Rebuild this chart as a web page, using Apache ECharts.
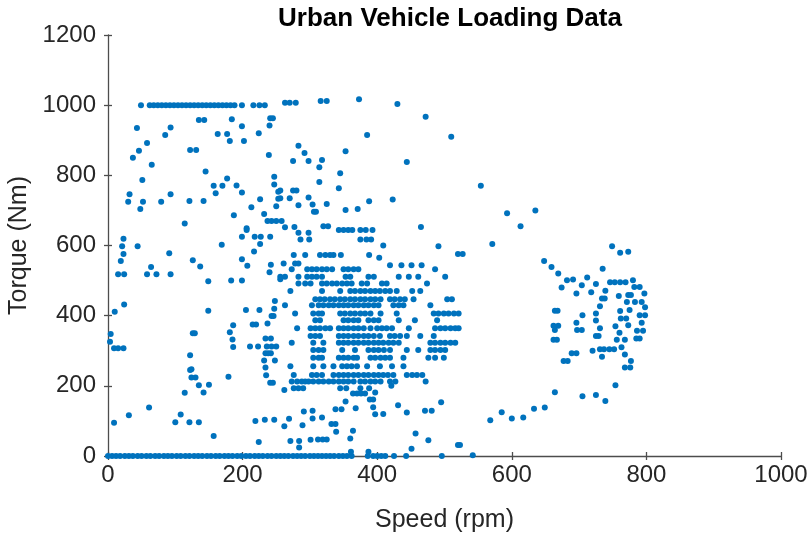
<!DOCTYPE html>
<html><head><meta charset="utf-8">
<script src="https://cdn.jsdelivr.net/npm/echarts@6/dist/echarts.min.js"></script>
<style>html,body{margin:0;padding:0;background:#fff}#c{width:809px;height:542px}</style>
</head><body><div id="c"></div>
<script>
const titleText = 'Urban Vehicle Loading Data';
const xName = 'Speed (rpm)';
const yName = 'Torque (Nm)';
const xTicks = [0, 200, 400, 600, 800, 1000];
const yTicks = [0, 200, 400, 600, 800, 1000, 1200];

// speeds recorded at zero torque
const idleSpeeds = [0,6,12,18,25,31,37,44,50,57,63,70,76,83,89,95,102,108,115,121,128,134,140,147,153,160,166,173,179,185,192,198,205,211,218,224,230,237,243,250,256,262,268,275,281,287,293,300,306,312,318,324,330,336,343,349,355,362,386,394,400,406,412,425,443,496];
// speeds recorded at full load (~1000 Nm)
const fullLoadSpeeds = [49,62,68,74,80,86,92,98,104,110,116,122,128,134,140,146,152,158,164,170,176,182,188,199,216,225,233];

const upperPoints = [[263,1007],[270,1007],[279,1007],[316,1012],[325,1012],[373,1017],[430,1003],[472,967],[510,910],[385,915],
[43,935],[93,936],[85,915],[58,892],[46,870],[37,850],[65,830],[135,958],[143,958],[184,960],[199,940],[163,918],[177,918],[181,898],[202,898],[224,920],[241,963],[245,963],[240,942],[122,872],[131,872],[239,858],[145,811],[51,787],[32,746],[30,725],[52,725],[48,704],[79,725],[93,746],[121,727],[142,727],[157,770],[160,749],[170,770],[177,791],[191,771],[199,751],[213,709],[226,732],[232,690],[250,712],[187,686],[114,663],[206,649],[237,670],[243,670],[250,670],[247,796],[247,774],[253,753],[253,733],
[283,884],[292,864],[275,841],[298,841],[318,844],[314,823],[353,869],[345,806],[314,781],[343,763],[444,838],[256,757],[275,757],[280,757],[256,735],[270,735],[283,715],[298,737],[304,717],[306,696],[309,696],[325,718],[353,701],[371,704],[388,726],[423,731],[258,670],[263,652],[277,653],[320,655],[327,655],[343,644],[350,644],[357,644],[363,644],[375,644],[383,644],[393,644],[465,653],
[554,770],[593,692],[635,700],[613,655]];

const leftPoints = [[23,619],[21,598],[23,576],[19,556],[44,598],[15,518],[24,518],[64,539],[58,518],[72,518],[93,518],[91,578],[126,558],[137,540],[149,498],[169,602],[183,500],[199,500],[199,561],[207,542],[199,625],[206,644],[218,625],[227,625],[241,625],[226,604],[217,583],[242,545],[240,524],[256,504],[24,432],[10,411],[149,414],[205,416],[225,416],[248,442],[247,420],[243,399],[246,399],[237,378],[215,375],[220,375],[186,373],[181,353],[185,332],[186,311],[126,350],[129,350],[122,287],[124,247],[4,348],[3,326],[9,307],[15,307],[23,307],[211,312],[223,312],[236,312],[243,312],[250,312],[234,335],[242,335],[234,293],[238,293],[242,293],[232,272],[248,272],[234,252],
[9,95],[31,116],[61,138],[100,96],[108,118],[121,96],[135,96],[157,57],[114,180],[124,224],[130,224],[122,245],[135,202],[142,181],[150,203],[179,226],[219,100],[233,103],[247,103],[224,40],[235,230],[241,209],[245,209]];

const lowerPoints = [[361,12],[387,12],[451,21],[520,31],[271,43],[284,43],[284,24],[301,46],[312,47],[319,47],[325,47],[360,50],[364,72],[339,69],[332,91],[338,91],[262,85],[269,106],[289,88],[304,107],[318,110],[291,127],[304,129],[338,133],[347,133],[353,155],[368,136],[394,139],[397,119],[409,120],[431,145],[444,124],[471,129],[481,129],[495,153],[457,64],[476,45],[262,188],[364,178],[370,178],[376,178],[382,178],[397,181],[389,161],[394,161],[421,200]];

// dense cluster: torque level -> speeds
const clusterTorque = [636,617,600,598,576,573,565,549,544,532,511,492,470,447,430,406,387,364,342,323,302,280,256,231,212,193];
const clusterSpeeds = [
[283,298],
[286,299,375,384,391],
[409],
[491],
[520],
[276,293,315,323,330,335,346,388],
[403],
[261,278,283],
[419,436,451,466],
[273,296,303,310,318,325,333,350,357,365,372,486],
[256,263,283,296,303,310,318,353,360,387,395,432,447,461,501],
[283,293,301,318,325,333,340,348,355,362,377,385,407,414,474],
[271,318,345,360,367,375,382,390,397,404,412,419,429,452,464],
[308,315,322,330,337,345,352,360,367,375,382,390,397,405,419,426,434,441,454,504,511],
[263,303,313,320,328,335,343,350,357,365,372,380,387,395,402,424,432,439,479],
[278,305,313,318,345,352,360,367,375,382,390,405,429,484,491,499,506,514,521],
[308,315,350,357,365,372,387,395,402,432,456,489],
[281,301,308,315,323,330,343,350,357,365,372,380,390,400,407,414,422,447,486,494,501,509,516,521],
[301,308,315,343,350,357,365,372,380,387,395,404,419,426,434,444,464,484],
[273,305,320,343,350,357,365,372,380,387,395,402,409,417,424,432,479,486,494,501,509,516],
[305,313,320,348,367,387,395,402,410,419,444,461,479,486,494,501],
[305,313,318,343,350,357,365,370,390,397,405,412,419,439,476,486,499],
[271,305,320,335,348,355,362,370,385,404,422,439],
[276,303,310,318,335,343,350,357,365,372,380,387,395,402,409,416,424,444,452,459,467],
[273,281,288,293,298,305,313,320,328,335,343,350,357,365,375,382,390,397,405,419,427,472],
[276,283,290,345,354,375,388]
];

const rightPoints = [[527,576],[571,604],[648,556],[659,539],[669,520],[682,501],[691,503],[674,480],[696,463],[704,487],[712,509],[718,467],[725,490],[735,534],[749,598],[761,579],[773,582],[739,471],[746,495],[753,495],[761,495],[769,495],[780,501],[782,482],[790,482],[797,463],[734,449],[738,449],[759,456],[773,459],[777,459],[731,427],[771,439],[783,439],[793,439],[798,424],[725,406],[761,413],[775,416],[664,414],[668,414],[705,401],[762,392],[770,392],[790,401],[798,401],[725,386],[696,380],[754,370],[773,373],[793,380],[662,371],[669,371],[731,364],[697,359],[704,359],[664,359],[760,351],[786,357],[795,357],[725,342],[729,342],[662,331],[667,331],[756,331],[768,331],[785,335],[790,335],[731,304],[737,304],[745,304],[752,304],[720,300],[763,310],[734,283],[768,289],[689,293],[696,293],[677,271],[683,271],[777,271],[768,252],[776,252],
[523,31],[542,2],[568,102],[585,125],[600,107],[617,110],[633,135],[649,138],[664,182],[705,170],[725,174],[739,157],[754,202]];

const data = [];
idleSpeeds.forEach(s => data.push([s, 0]));
fullLoadSpeeds.forEach(s => data.push([s, 1000]));
upperPoints.forEach(p => data.push(p));
leftPoints.forEach(p => data.push(p));
lowerPoints.forEach(p => data.push(p));
clusterSpeeds.forEach((row, i) => row.forEach(s => data.push([s, clusterTorque[i]])));
rightPoints.forEach(p => data.push(p));

const FONT = 'Liberation Sans, Arial, Helvetica, sans-serif';
const AX = '#4d4d4d';
const TXT = '#262626';
const plain = v => String(v);
const chart = echarts.init(document.getElementById('c'), null, {renderer: 'canvas'});
const xMin = xTicks[0], xMax = xTicks[xTicks.length-1], xInt = xTicks[1]-xTicks[0];
const yMin = yTicks[0], yMax = yTicks[yTicks.length-1], yInt = yTicks[1]-yTicks[0];
chart.setOption({
  animation: false,
  backgroundColor: '#fff',
  title: {text: titleText, left: 445, textAlign: 'center', top: 1,
    textStyle: {fontFamily: FONT, fontWeight: 'bold', fontSize: 26, color: '#000'}},
  grid: {left: 108, right: 28, top: 35, bottom: 86, containLabel: false, outerBoundsMode: 'none'},
  xAxis: [{
    type: 'value', min: xMin, max: xMax, interval: xInt, position: 'bottom',
    name: xName, nameLocation: 'middle', nameGap: 52,
    nameTextStyle: {fontFamily: FONT, fontSize: 25, color: TXT},
    axisLine: {lineStyle: {color: AX, width: 1.3}},
    axisTick: {inside: false, length: 4, lineStyle: {color: AX, width: 1.3}},
    axisLabel: {fontFamily: FONT, fontSize: 24, color: TXT, margin: 7, formatter: plain},
    splitLine: {show: false}
  }, {
    type: 'value', min: xMin, max: xMax, interval: xInt, position: 'bottom',
    axisLine: {show: false},
    axisTick: {inside: true, length: 4, lineStyle: {color: AX, width: 1.3}},
    axisLabel: {show: false}, splitLine: {show: false}
  }],
  yAxis: [{
    type: 'value', min: yMin, max: yMax, interval: yInt, position: 'left',
    name: yName, nameLocation: 'middle', nameGap: 62,
    nameTextStyle: {fontFamily: FONT, fontSize: 25, color: TXT},
    axisLine: {show: true, lineStyle: {color: AX, width: 1.3}},
    axisTick: {show: true, inside: false, length: 4, lineStyle: {color: AX, width: 1.3}},
    axisLabel: {fontFamily: FONT, fontSize: 24, color: TXT, margin: 12, formatter: plain},
    splitLine: {show: false}
  }, {
    type: 'value', min: yMin, max: yMax, interval: yInt, position: 'left',
    axisLine: {show: false},
    axisTick: {show: true, inside: true, length: 4, lineStyle: {color: AX, width: 1.3}},
    axisLabel: {show: false}, splitLine: {show: false}
  }],
  series: [{
    type: 'scatter', xAxisIndex: 0, yAxisIndex: 0,
    symbol: 'circle', symbolSize: 6,
    itemStyle: {color: '#0072BD', opacity: 1},
    data: data
  }]
});
</script></body></html>
